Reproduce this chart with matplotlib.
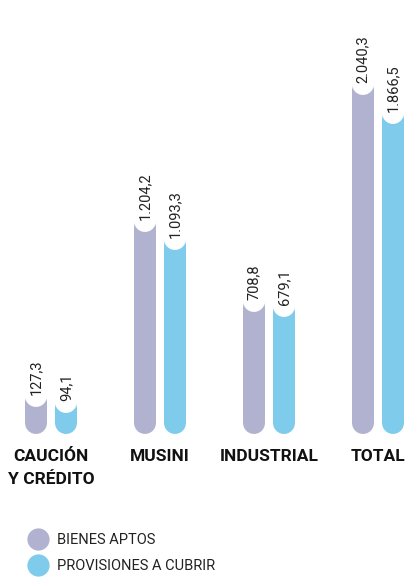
import matplotlib
matplotlib.use("Agg")
import matplotlib.pyplot as plt
from matplotlib.lines import Line2D

categories = ["CAUCIÓN\nY CRÉDITO", "MUSINI", "INDUSTRIAL", "TOTAL"]
bienes_aptos = [127.3, 1204.2, 708.8, 2040.3]
provisiones = [94.1, 1093.3, 679.1, 1866.5]
bienes_labels = ["127,3", "1.204,2", "708,8", "2.040,3"]
prov_labels = ["94,1", "1.093,3", "679,1", "1.866,5"]
series_names = ["BIENES APTOS", "PROVISIONES A CUBRIR"]
colors = ["#b1b2cf", "#7ecbec"]

W, H, DPI = 405, 578, 100
fig = plt.figure(figsize=(W / DPI, H / DPI), dpi=DPI)
ax = fig.add_axes([0, 0, 1, 1])
ax.set_axis_off()

YMIN, YMAX = -951, 2595
ax.set_ylim(YMIN, YMAX)
ax.set_xlim(-0.470, 3.246)
PX = (YMAX - YMIN) / H  # data units per pixel
LW = 22 * 72 / DPI       # bar width in points
OFF = 0.14

num_font = ["Roboto", "DejaVu Sans"]
cat_font = ["Roboto", "DejaVu Sans"]

for i in range(len(categories)):
    for xo, vals, labs, col in [(-OFF, bienes_aptos, bienes_labels, colors[0]),
                                (OFF, provisiones, prov_labels, colors[1])]:
        x = i + xo
        v = vals[i]
        ax.vlines(x, 0, v, colors=col, linewidth=LW, capstyle="round", zorder=2)
        # white capsule over the bar top
        ax.vlines(x, v + 6 * PX, v + 70 * PX, colors="white", linewidth=LW,
                  capstyle="round", zorder=3)
        ax.text(x, v + 7 * PX, labs[i], rotation=90, ha="center", va="bottom",
                fontsize=10.5, family=num_font, color="#222222", zorder=4)
    ax.text(i, -26 * PX, categories[i], ha="center", va="top", fontsize=12.5,
            fontweight="bold", family=cat_font,
            color="#111111", linespacing=1.65)

handles = [Line2D([], [], marker="o", linestyle="none", markersize=16,
                  markerfacecolor=c, markeredgecolor="none") for c in colors]
leg = fig.legend(handles, series_names, loc="upper left",
                 bbox_to_anchor=(29 / W, 1 - 533 / H), frameon=False,
                 prop={"family": num_font, "size": 10.5},
                 handletextpad=0.75, labelspacing=0.8, borderaxespad=0,
                 handlelength=1.2, borderpad=0)
for t in leg.get_texts():
    t.set_color("#222222")

fig.savefig("out.png", dpi=DPI)
